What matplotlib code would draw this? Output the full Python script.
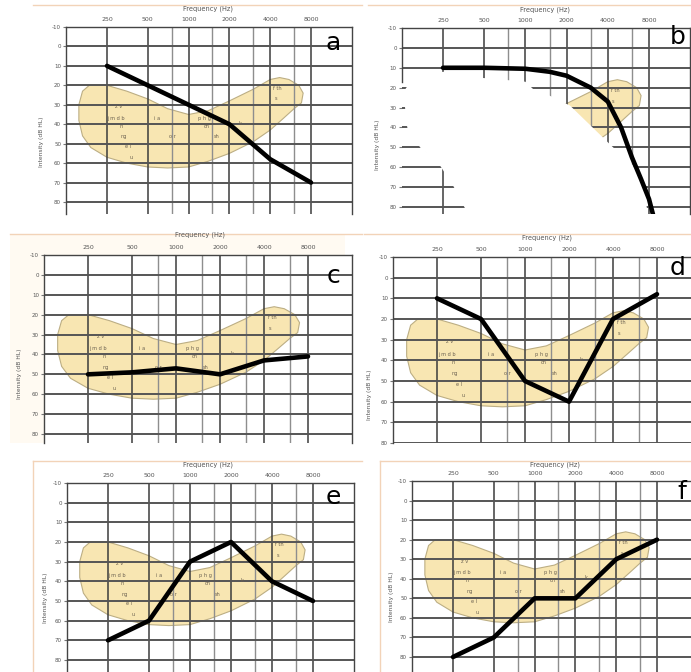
import matplotlib
matplotlib.use("Agg")
import matplotlib.pyplot as plt
from matplotlib.patches import Polygon, Rectangle
from matplotlib.lines import Line2D
from matplotlib.ticker import NullLocator
import numpy as np

# ---------------------------------------------------------------- data
OCTAVE_FREQS = [250, 500, 1000, 2000, 4000, 8000]
HALF_OCTAVE_FREQS = [750, 1500, 3000, 6000]
LEVELS_DB = [-10, 0, 10, 20, 30, 40, 50, 60, 70, 80]
FREQ_TICK_LABELS = ["250", "500", "1000", "2000", "4000", "8000"]

# outline of the "speech banana" (Hz, dB HL), clockwise from the upper left
banana_freq = [185, 250, 350, 500, 700, 1000, 1400, 2000, 3000, 4000, 4700,
               5500, 6500, 7000, 6800, 6000, 5000, 4000, 3000, 2000, 1400,
               1000, 700, 500, 350, 250, 190, 165, 155, 155, 165]
banana_db = [20, 20, 23, 27, 32, 35, 33, 28, 22, 17, 16,
             17, 20, 24, 29, 32, 37, 43, 49, 55, 59,
             62, 62.5, 62, 60, 57, 52, 46, 38, 30, 23]

phoneme_text = ["z v", "j m d b", "n", "ng", "e l", "u", "i a", "o r",
                "p h g", "ch", "sh", "k", "f th", "s"]
phoneme_freq = [305, 290, 320, 330, 355, 380, 590, 760,
                1300, 1350, 1600, 2400, 4550, 4400]
phoneme_db = [31, 37, 41, 46.5, 51.5, 57, 37, 46.5,
              37, 41, 46.5, 39.5, 21.5, 27]

# hearing thresholds (Hz, dB HL) for each audiogram
freq_a = [250, 500, 1000, 2000, 4000, 8000]
thr_a = [10, 20, 30, 40, 58, 70]

freq_b = [250, 500, 1000, 1500, 2000, 3000, 4000, 5000, 6000, 7000, 8000, 8800]
thr_b = [10, 10, 10.5, 12, 14, 20, 27, 40, 55, 66, 76, 87]

freq_c = [250, 500, 1000, 2000, 4000, 8000]
thr_c = [50, 49, 47, 50, 43, 41]

freq_d = [250, 500, 1000, 2000, 4000, 8000]
thr_d = [10, 20, 50, 60, 20, 8]

freq_e = [250, 500, 1000, 2000, 4000, 8000]
thr_e = [70, 60, 30, 20, 40, 50]

freq_f = [250, 500, 1000, 2000, 4000, 8000]
thr_f = [80, 70, 50, 50, 30, 20]

# blanked-out region of audiogram b (Hz, dB HL)
erased_b_freq = [132, 151, 250, 466, 1000, 1150, 1500, 2118, 4370, 6100, 7220,
                 7880, 7880, 466, 295, 237, 170, 137, 132]
erased_b_db = [21, 15, 12, 15, 17, 21, 24, 29, 50, 59, 69,
               84, 95, 95, 69, 59, 50, 40, 30]

# ---------------------------------------------------------------- figure
W, H = 691, 672
fig = plt.figure(figsize=(W / 100, H / 100), dpi=100)
fig.patch.set_facecolor("white")


def fx(px):
    return px / W


def fy(py):
    return 1 - py / H


def frame_line(x0, y0, x1, y1):
    fig.add_artist(Line2D([fx(x0), fx(x1)], [fy(y0), fy(y1)],
                          color="#f2d3b8", lw=1.0, transform=fig.transFigure))


def draw_panel(geom, freqs, thr, letter, letter_pos, xlabel_pos, ylabel_pos,
               erased=None):
    x250, x8000, ytop, y80, ybot = geom
    ppo = (x8000 - x250) / 5.0
    left, right = x250 - ppo, x8000 + ppo
    ax = fig.add_axes([fx(left), fy(ybot), (right - left) / W, (ybot - ytop) / H])
    ax.set_xscale("log", base=2)
    ax.set_xlim(125, 16000)
    ybottom = -10 + (ybot - ytop) / (y80 - ytop) * 90
    ax.set_ylim(ybottom, -10)

    for f in OCTAVE_FREQS:
        ax.axvline(f, color="#3c3c3c", lw=1.1, zorder=2)
    for f in HALF_OCTAVE_FREQS:
        ax.axvline(f, color="#8e8e8e", lw=1.0, zorder=2)
    for d in LEVELS_DB:
        ax.axhline(d, color="#555555", lw=1.4, zorder=2)

    ax.add_patch(Polygon(np.column_stack([banana_freq, banana_db]), closed=True,
                         fc="#f8e6b2", ec="#bcae84", lw=0.8, zorder=1))
    for t, f, d in zip(phoneme_text, phoneme_freq, phoneme_db):
        ax.text(f, d, t, fontsize=3.6, color="#6a6050", ha="center",
                va="center", zorder=3)

    if erased is not None:
        ax.add_patch(Polygon(np.column_stack(erased), closed=True,
                             fc="white", ec="none", zorder=4))

    ax.plot(freqs, thr, color="black", lw=3.3, solid_capstyle="round",
            solid_joinstyle="round", zorder=5)

    ax.xaxis.tick_top()
    ax.set_xticks(OCTAVE_FREQS)
    ax.set_xticklabels(FREQ_TICK_LABELS)
    ax.xaxis.set_minor_locator(NullLocator())
    ax.tick_params(axis="x", length=0, pad=3.5, labelsize=4.5, labelcolor="#555555")
    ax.set_yticks(LEVELS_DB)
    ax.set_yticklabels([str(v) for v in LEVELS_DB])
    ax.tick_params(axis="y", length=2.5, width=0.8, color="#777777", pad=1.2,
                   labelsize=4, labelcolor="#555555")
    ax.spines["bottom"].set_visible(False)
    for s in ("left", "top", "right"):
        ax.spines[s].set_color("#444444")
        ax.spines[s].set_linewidth(1.0)
    if erased is not None:
        ax.spines["left"].set_visible(False)
        ax.plot([125, 125], [-10, 17], color="#444444", lw=1.0, zorder=6,
                clip_on=False)

    fig.text(fx(xlabel_pos[0]), fy(xlabel_pos[1]), "Frequency (Hz)",
             fontsize=4.8, color="#555555", ha="center", va="center")
    fig.text(fx(ylabel_pos[0]), fy(ylabel_pos[1]), "Intensity (dB HL)",
             fontsize=4.3, color="#555555", ha="center", va="center", rotation=90)
    fig.text(fx(letter_pos[0]), fy(letter_pos[1]), letter, fontsize=18,
             color="black", ha="center", va="center", zorder=10)
    return ax


# faint page tint behind audiogram c
fig.add_artist(Rectangle((fx(10), fy(443)), (345 - 10) / W, (443 - 234) / H,
                         transform=fig.transFigure, fc="#fffaf2", ec="none",
                         zorder=-1))

frame_line(33, 5, 362, 5)
frame_line(368, 5, 691, 5)
frame_line(10, 234, 362, 234)
frame_line(364, 234, 691, 234)
frame_line(33, 461, 362, 461)
frame_line(33, 461, 33, 672)
frame_line(380, 461, 691, 461)
frame_line(380, 461, 380, 672)

draw_panel((107, 311, 27, 202, 214), freq_a, thr_a, "a", (333, 43), (208, 9), (42, 142))
draw_panel((443, 649, 28, 207, 214), freq_b, thr_b, "b", (678, 37), (545, 10), (378, 145),
           erased=(erased_b_freq, erased_b_db))
draw_panel((88, 308, 255, 434, 443), freq_c, thr_c, "c", (333, 276), (200, 235), (20, 374))
draw_panel((437, 657, 257, 450, 443), freq_d, thr_d, "d", (678, 268), (547, 238), (370, 395))
draw_panel((108, 313, 483, 660, 672), freq_e, thr_e, "e", (333, 497), (208, 465), (45, 598))
draw_panel((453, 657, 481, 657, 672), freq_f, thr_f, "f", (682, 492), (555, 465), (392, 597))

fig.savefig("out.png", dpi=100)
